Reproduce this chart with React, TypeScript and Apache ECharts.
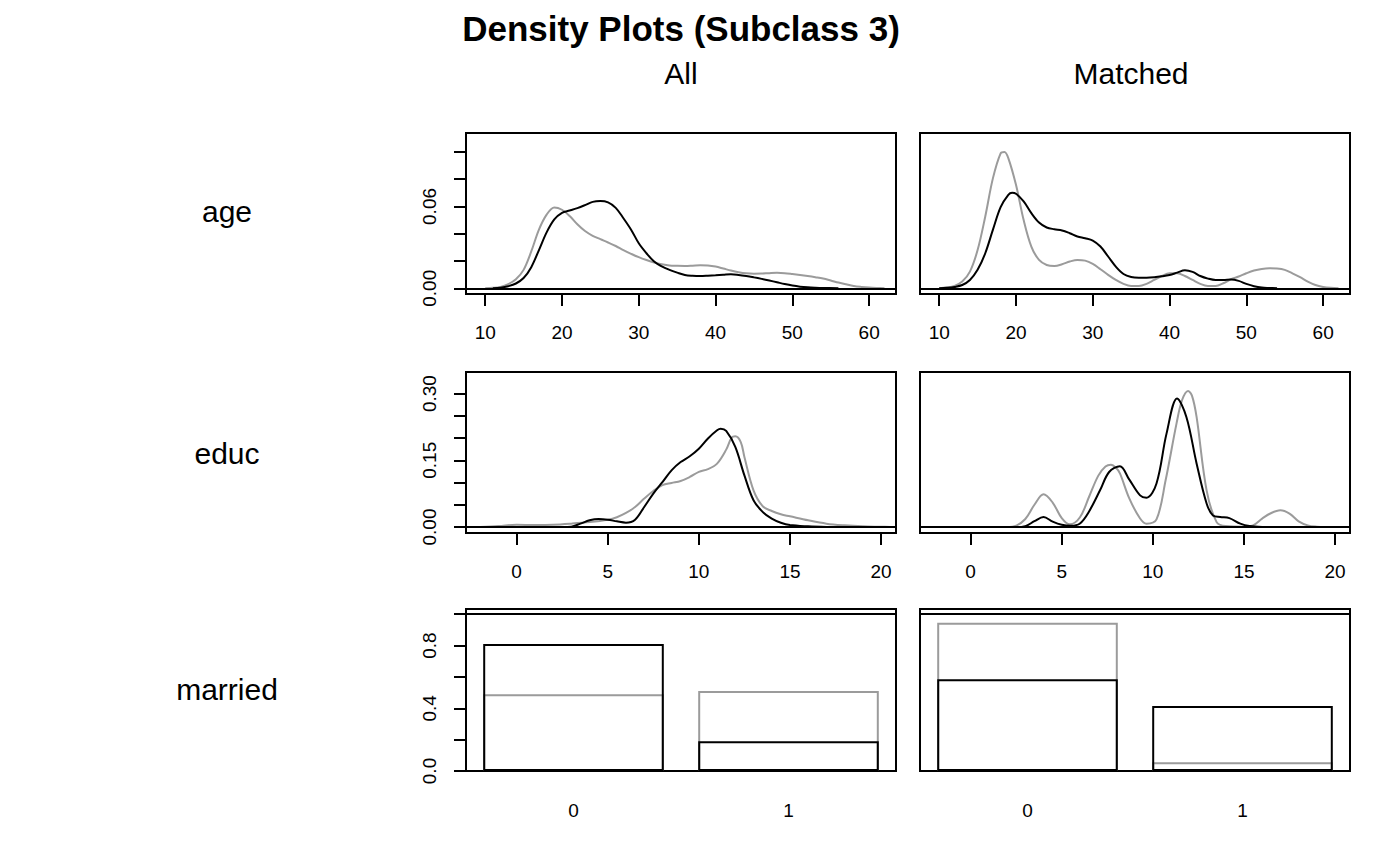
import React, { useEffect, useRef } from 'react';
import * as echarts from 'echarts';

// density curves: [x, density]
const ageAllControl = [
  [10, 0], [11, 0.0003], [12, 0.001], [13, 0.003], [14, 0.0066], [15, 0.0135], [16, 0.027], [17, 0.043],
  [18, 0.054], [19, 0.0593], [20, 0.0576], [21, 0.053], [22, 0.047], [23, 0.042], [24, 0.0385], [25, 0.036],
  [26, 0.0336], [27, 0.031], [28, 0.028], [29, 0.0253], [30, 0.0228], [31, 0.0207], [32, 0.0189], [33, 0.0176],
  [34, 0.0167], [35, 0.0165], [36, 0.0164], [37, 0.0166], [38, 0.0169], [39, 0.0167], [40, 0.0159], [41, 0.0145],
  [42, 0.013], [43, 0.0118], [44, 0.011], [45, 0.0107], [46, 0.0108], [47, 0.0111], [48, 0.0113], [49, 0.0111],
  [50, 0.0105], [51, 0.0098], [52, 0.009], [53, 0.0081], [54, 0.0071], [55, 0.0057], [56, 0.0042], [57, 0.0029],
  [58, 0.0017], [59, 0.001], [60, 0.0005], [61, 0.0002], [62, 0],
];
const ageAllTreated = [
  [11, 0], [12, 0.0004], [13, 0.0015], [14, 0.0035], [15, 0.0075], [16, 0.0155], [17, 0.028], [18, 0.041],
  [19, 0.0505], [20, 0.0553], [21, 0.057], [22, 0.0588], [23, 0.061], [24, 0.0634], [25, 0.064], [26, 0.063],
  [27, 0.059], [28, 0.0514], [29, 0.043], [30, 0.033], [31, 0.0257], [32, 0.0196], [33, 0.016], [34, 0.0135],
  [35, 0.0115], [36, 0.0098], [37, 0.0092], [38, 0.009], [39, 0.0092], [40, 0.0095], [41, 0.0099], [42, 0.0103],
  [43, 0.0098], [44, 0.009], [45, 0.008], [46, 0.0069], [47, 0.0057], [48, 0.0044], [49, 0.0031], [50, 0.002],
  [51, 0.0012], [52, 0.0007], [53, 0.0004], [54, 0.0002], [56, 0],
];
const ageMatchedControl = [
  [10, 0], [11, 0.0005], [12, 0.0017], [13, 0.0049], [14, 0.0122], [15, 0.028], [16, 0.0527], [17, 0.0808],
  [18, 0.099], [18.5, 0.1], [19, 0.0955], [20, 0.0759], [21, 0.05], [22, 0.0306], [23, 0.0208], [24, 0.0171],
  [25, 0.0164], [26, 0.0176], [27, 0.0196], [28, 0.0208], [29, 0.0203], [30, 0.0179], [31, 0.014], [32, 0.0098],
  [33, 0.0061], [34, 0.0032], [35, 0.0017], [36, 0.0017], [37, 0.0032], [38, 0.0061], [39, 0.009], [40, 0.011],
  [41, 0.011], [42, 0.009], [43, 0.0061], [44, 0.0032], [45, 0.0017], [46, 0.0017], [47, 0.0037], [48, 0.0066],
  [49, 0.0086], [50, 0.011], [51, 0.013], [52, 0.0142], [53, 0.0147], [54, 0.0145], [55, 0.0135], [56, 0.011],
  [57, 0.0081], [58, 0.0049], [59, 0.0024], [60, 0.001], [61, 0.0003], [62, 0],
];
const ageMatchedTreated = [
  [10, 0], [11, 0.0003], [12, 0.001], [13, 0.0024], [14, 0.0061], [15, 0.0135], [16, 0.0257], [17, 0.043],
  [18, 0.0595], [19, 0.0686], [19.5, 0.07], [20, 0.0693], [21, 0.0637], [22, 0.0551], [23, 0.0482], [24, 0.0446],
  [25, 0.0433], [26, 0.0424], [27, 0.0404], [28, 0.038], [29, 0.0367], [30, 0.035], [31, 0.0306], [32, 0.0233],
  [33, 0.0159], [34, 0.0105], [35, 0.0083], [36, 0.0078], [37, 0.0078], [38, 0.0081], [39, 0.0088], [40, 0.0098],
  [41, 0.0115], [42, 0.0132], [43, 0.012], [44, 0.009], [45, 0.0071], [46, 0.0061], [47, 0.0061], [48, 0.0064],
  [49, 0.0054], [50, 0.0032], [51, 0.0015], [52, 0.0005], [53, 0.0002], [54, 0],
];
const educAllControl = [
  [-2, 0], [-1, 0.002], [0, 0.005], [1, 0.0045], [2, 0.005], [3, 0.0075], [4, 0.011], [5, 0.0165], [5.5, 0.022],
  [6, 0.0315], [6.5, 0.045], [7, 0.064], [7.5, 0.081], [8, 0.094], [8.5, 0.099], [9, 0.1035], [9.5, 0.1125],
  [10, 0.124], [10.5, 0.13], [11, 0.1425], [11.5, 0.174], [11.8, 0.201], [12, 0.204], [12.3, 0.191],
  [12.5, 0.1575], [13, 0.0825], [13.5, 0.047], [14, 0.036], [14.5, 0.0285], [15, 0.024], [16, 0.015],
  [17, 0.0075], [18, 0.0037], [19, 0.0015], [20, 0.0005], [20.5, 0],
];
const educAllTreated = [
  [2.5, 0], [3, 0.0007], [3.5, 0.0075], [4, 0.015], [4.5, 0.018], [5, 0.0165], [5.5, 0.0127], [6, 0.0097],
  [6.5, 0.0165], [7, 0.045], [7.5, 0.075], [8, 0.101], [8.5, 0.1275], [9, 0.146], [9.5, 0.159], [10, 0.176],
  [10.5, 0.199], [11, 0.2175], [11.2, 0.221], [11.5, 0.216], [12, 0.18], [12.5, 0.116], [13, 0.06],
  [13.5, 0.034], [14, 0.019], [14.5, 0.0097], [15, 0.0045], [16, 0.0015], [17, 0],
];
const educMatchedControl = [
  [2, 0], [2.5, 0.003], [3, 0.018], [3.5, 0.05], [4, 0.0735], [4.5, 0.055], [5, 0.02], [5.44, 0.006],
  [6, 0.022], [6.5, 0.068], [7, 0.115], [7.4, 0.136], [7.7, 0.14], [8, 0.132], [8.2, 0.12], [8.7, 0.065],
  [9.3, 0.019], [9.65, 0.0075], [10.2, 0.017], [10.7, 0.105], [11.3, 0.233], [11.6, 0.285], [11.93, 0.306],
  [12.15, 0.295], [12.4, 0.2475], [12.95, 0.0825], [13.5, 0.011], [14, 0.002], [15, 0.0007], [15.5, 0.0037],
  [16, 0.019], [16.5, 0.0315], [17, 0.0375], [17.5, 0.03], [18, 0.0127], [18.5, 0.0037], [19, 0.0007], [19.5, 0],
];
const educMatchedTreated = [
  [2.5, 0], [3, 0.002], [3.5, 0.013], [4, 0.0225], [4.5, 0.012], [5, 0.005], [5.5, 0.003], [6, 0.008],
  [6.5, 0.035], [7.1, 0.0825], [7.6, 0.1237], [8.19, 0.1365], [8.7, 0.107], [9.3, 0.071], [9.65, 0.066],
  [10.2, 0.098], [10.75, 0.21], [11.33, 0.289], [11.84, 0.2475], [12.4, 0.143], [12.95, 0.053], [13.3, 0.026],
  [13.7, 0.0225], [14.2, 0.02], [14.8, 0.0075], [15.3, 0.002], [16, 0],
];

// married proportions, categories 0 / 1
const marriedCategories = ['0', '1'];
const marriedAllControl = [0.49, 0.51];
const marriedAllTreated = [0.81, 0.19];
const marriedMatchedControl = [0.945, 0.055];
const marriedMatchedTreated = [0.585, 0.415];

// ticks and labels
const ageXTicks = [10, 20, 30, 40, 50, 60];
const educXTicks = [0, 5, 10, 15, 20];
const ageYTicks = [0, 0.02, 0.04, 0.06, 0.08, 0.1];
const ageYLabels = [0, 0.06];
const educYTicks = [0, 0.05, 0.1, 0.15, 0.2, 0.25, 0.3];
const educYLabels = [0, 0.15, 0.3];
const marriedYTicks = [0, 0.2, 0.4, 0.6, 0.8, 1];
const marriedYLabels = [0, 0.4, 0.8];

const FONT = '"Liberation Sans", Arial, Helvetica, sans-serif';
const GRAY = '#9b9b9b';

const App: React.FC = () => {
  const chartRef = useRef<HTMLDivElement | null>(null);

  useEffect(() => {
    if (!chartRef.current) return;
    const chart = echarts.init(chartRef.current, null, { renderer: 'svg' });

    const cols = [466, 920];
    const rows = [
      { top: 133, height: 161 },
      { top: 372, height: 161 },
      { top: 609, height: 162 },
    ];
    const grid: any[] = [];
    rows.forEach((r) =>
      cols.forEach((l) =>
        grid.push({
          left: l,
          top: r.top,
          width: 430,
          height: r.height,
          show: true,
          borderColor: '#000',
          borderWidth: 2,
          backgroundColor: 'transparent',
        })
      )
    );

    const tickLine = { color: '#000', width: 2 };
    const labelBase = { fontSize: 19, color: '#000', fontFamily: FONT };
    const valueX = (gi: number, min: number, max: number, ticks: number[]) => ({
      type: 'value',
      gridIndex: gi,
      min,
      max,
      axisLine: { show: false, onZero: false },
      splitLine: { show: false },
      axisTick: { show: true, inside: false, length: 12, customValues: ticks, lineStyle: tickLine },
      axisLabel: { ...labelBase, customValues: ticks, margin: 29 },
    });
    const catX = (gi: number) => ({
      type: 'category',
      gridIndex: gi,
      data: marriedCategories,
      boundaryGap: true,
      axisLine: { show: false, onZero: false },
      axisTick: { show: false },
      splitLine: { show: false },
      axisLabel: { ...labelBase, margin: 30 },
    });
    const yAx = (gi: number, min: number, max: number, ticks: number[] | null, labels: number[] | null, digits: number) => ({
      type: 'value',
      gridIndex: gi,
      min,
      max,
      axisLine: { show: false, onZero: false },
      splitLine: { show: false },
      axisTick: ticks
        ? { show: true, inside: false, length: 12, customValues: ticks, lineStyle: tickLine }
        : { show: false },
      axisLabel: labels
        ? {
            ...labelBase,
            customValues: labels,
            rotate: 90,
            margin: 27,
            formatter: (v: number) => v.toFixed(digits),
          }
        : { show: false },
    });

    const ageMin = 7.5, ageMax = 63.5;
    const educMin = -2.78, educMax = 20.82;

    const xAxis = [
      valueX(0, ageMin, ageMax, ageXTicks),
      valueX(1, ageMin, ageMax, ageXTicks),
      valueX(2, educMin, educMax, educXTicks),
      valueX(3, educMin, educMax, educXTicks),
      catX(4),
      catX(5),
    ];
    const yAxis = [
      yAx(0, -0.0042, 0.1139, ageYTicks, ageYLabels, 2),
      yAx(1, -0.0042, 0.1139, null, null, 2),
      yAx(2, -0.0135, 0.3486, educYTicks, educYLabels, 2),
      yAx(3, -0.0135, 0.3486, null, null, 2),
      yAx(4, 0, 1.033, marriedYTicks, marriedYLabels, 1),
      yAx(5, 0, 1.033, null, null, 1),
    ];

    const refLine = (y: number) => ({
      silent: true,
      symbol: 'none',
      label: { show: false },
      lineStyle: { color: '#000', width: 2, type: 'solid' },
      data: [{ yAxis: y }],
    });
    const curve = (gi: number, data: number[][], color: string, withLine: boolean) => ({
      type: 'line',
      xAxisIndex: gi,
      yAxisIndex: gi,
      data,
      smooth: 0.35,
      showSymbol: false,
      symbol: 'none',
      lineStyle: { color, width: 2 },
      itemStyle: { color },
      silent: true,
      z: color === GRAY ? 2 : 3,
      markLine: withLine ? refLine(0) : undefined,
    });
    const bars = (gi: number, data: number[], color: string, withLine: boolean) => ({
      type: 'bar',
      xAxisIndex: gi,
      yAxisIndex: gi,
      data,
      barWidth: '84%',
      barGap: '-100%',
      silent: true,
      z: color === GRAY ? 2 : 3,
      itemStyle: { color: 'rgba(0,0,0,0)', borderColor: color, borderWidth: 2 },
      markLine: withLine ? refLine(1) : undefined,
    });

    const series = [
      curve(0, ageAllControl, GRAY, true),
      curve(0, ageAllTreated, '#000', false),
      curve(1, ageMatchedControl, GRAY, true),
      curve(1, ageMatchedTreated, '#000', false),
      curve(2, educAllControl, GRAY, true),
      curve(2, educAllTreated, '#000', false),
      curve(3, educMatchedControl, GRAY, true),
      curve(3, educMatchedTreated, '#000', false),
      bars(4, marriedAllControl, GRAY, true),
      bars(4, marriedAllTreated, '#000', false),
      bars(5, marriedMatchedControl, GRAY, true),
      bars(5, marriedMatchedTreated, '#000', false),
    ];

    const txt = (text: string, x: number, y: number, size: number, bold = false) => ({
      type: 'text',
      x,
      y,
      silent: true,
      style: {
        text,
        fill: '#000',
        font: `${bold ? 'bold ' : ''}${size}px ${FONT}`,
        textAlign: 'center',
        textVerticalAlign: 'middle',
      },
    });

    const option: any = {
      animation: false,
      backgroundColor: '#fff',
      grid,
      xAxis,
      yAxis,
      series,
      graphic: [
        txt('Density Plots (Subclass 3)', 681, 28, 35, true),
        txt('All', 681, 73, 30),
        txt('Matched', 1131, 73, 30),
        txt('age', 227, 211, 30),
        txt('educ', 227, 453, 30),
        txt('married', 227, 689, 30),
      ],
    };

    chart.setOption(option);
    return () => {
      chart.dispose();
    };
  }, []);

  return (
    <div
      ref={chartRef}
      style={{ position: 'absolute', left: 0, top: 0, width: '1400px', height: '866px' }}
    />
  );
};

export default App;
